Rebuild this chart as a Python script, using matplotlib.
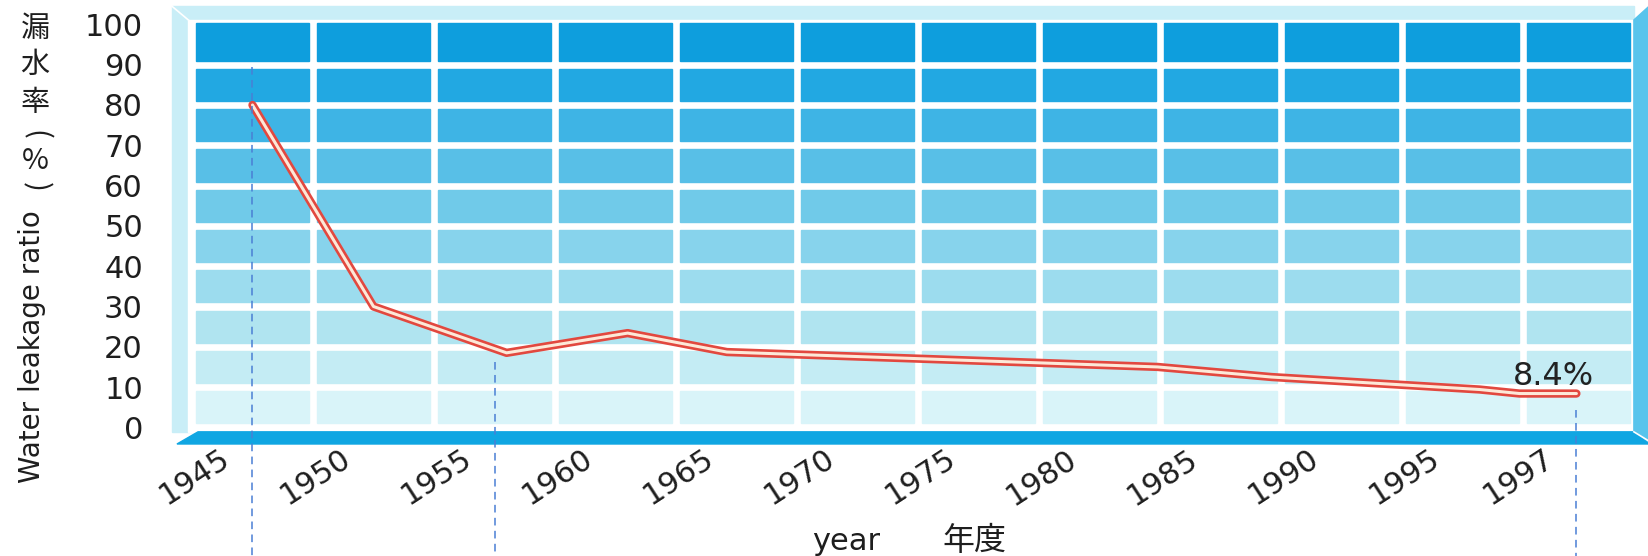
import matplotlib.pyplot as plt
import numpy as np
from matplotlib.patches import Rectangle, Polygon
from matplotlib.transforms import ScaledTranslation

# 漏水率の推移 (1945-1997)
tick_years = [1945, 1950, 1955, 1960, 1965, 1970, 1975, 1980, 1985, 1990, 1995, 1997]
years = [1945, 1950, 1955.5, 1960.5, 1964.6, 1982.4, 1987.1, 1995.3, 1996, 1997]
leak = [80, 30, 18.5, 23.4, 18.7, 15.0, 12.5, 9.4, 8.4, 8.4]
y_ticks = list(range(0, 101, 10))
last_label = '8.4%'

# 列の境界 (最後の列だけ少し細い)
col_edges = np.append(np.arange(12), 11.88)
col_centers = (col_edges[:-1] + col_edges[1:]) / 2
x_data = np.interp(years, tick_years, col_centers)

row_colors = ['#d9f4f9', '#c4ecf4', '#b0e4f0', '#9cdcee', '#87d3ec',
              '#70cae9', '#58bfe7', '#3eb4e5', '#22a8e2', '#0e9edd']

W, H = 1649, 556
fig = plt.figure(figsize=(W / 100, H / 100), dpi=100)
ax = fig.add_axes([168 / W, 112 / H, 1481 / W, 440 / H])
ax.set_xlim(-0.198, 12.04)
ax.set_ylim(-4.12, 105.06)
ax.set_facecolor('none')
for s in ax.spines.values():
    s.set_visible(False)

# 外枠 (うすい水色) と白い地
ax.add_patch(Rectangle((-0.165, -1.1), 12.08, 105.6, color='#c9eef7', zorder=0))
ax.add_patch(Rectangle((-0.03, -1.1), 11.94, 102.2, color='white', zorder=1))
ax.plot([-0.165, -0.03], [104.5, 101.1], color='white', lw=1.2, zorder=1)

# 右の側面
ax.add_patch(Polygon([(11.915, 101.1), (12.04, 104.5), (12.04, -4.12), (11.915, -1.1)],
                     closed=True, color='#58c4ec', zorder=1, clip_on=False))
# 床
ax.add_patch(Polygon([(0.05, -1.1), (11.915, -1.1), (12.04, -4.12), (-0.124, -4.12)],
                     closed=True, color='#10a6e2', zorder=2, clip_on=False))
ax.plot([11.915, 12.04], [-1.1, -3.4], color='white', lw=1.2, zorder=3, clip_on=False)

# セル
for j in range(10):
    y0 = 10 * j + 1
    h = 9.3 if j == 9 else 8
    for i in range(12):
        x0 = col_edges[i] + 0.035
        w = (col_edges[i + 1] - 0.035 if i < 11 else col_edges[i + 1]) - x0
        ax.add_patch(Rectangle((x0, y0), w, h, color=row_colors[j], zorder=2))

# 折れ線 (赤いふち + 白っぽい芯)
ax.plot(x_data, leak, color='#e2483f', lw=6, solid_capstyle='round', solid_joinstyle='round', zorder=5)
ax.plot(x_data, leak, color='#fde8d8', lw=2.2, solid_capstyle='round', solid_joinstyle='round', zorder=6)

ax.annotate(last_label, xy=(x_data[-1], leak[-1]), xytext=(-64, 17), textcoords='offset pixels',
            ha='left', va='center', fontsize=23, color='#222222', zorder=7)

# 青い破線
guide_years = [1945, 1955, 1997]
guide_top = [89.4, 16.2, 4.3]
guide_x = np.interp(guide_years, tick_years, col_centers)
for gx, gt in zip(guide_x, guide_top):
    ax.plot([gx, gx], [gt, -32], color='#4a7fd4', lw=1.1, dashes=(5, 3.5), zorder=8, clip_on=False)

ax.set_yticks(y_ticks)
ax.set_yticklabels([str(v) for v in y_ticks])
ax.tick_params(axis='y', length=0, pad=18, labelsize=22, labelcolor='#1e1e1e')
ax.set_xticks(col_centers)
ax.set_xticklabels([str(y) for y in tick_years], rotation=33, ha='right', va='top',
                   rotation_mode='anchor')
ax.tick_params(axis='x', length=0, pad=0, labelsize=22, labelcolor='#1e1e1e')
shift = ScaledTranslation(-33 / 100, 0, fig.dpi_scale_trans)
for lab in ax.get_xticklabels():
    lab.set_transform(lab.get_transform() + shift)

# 縦書きの軸ラベル
jp = ['Noto Sans CJK JP', 'DejaVu Sans']
for ch, yy, rot in [('漏', 29, 0), ('水', 65, 0), ('率', 103, 0), ('(', 135, -90), ('%', 161, 0), (')', 187, -90)]:
    fig.text(35 / W, 1 - yy / H, ch, ha='center', va='center', rotation=rot,
             fontsize=21, family=jp, color='#1e1e1e')
fig.text(32 / W, 1 - 347 / H, 'Water leakage ratio', rotation=90, ha='center', va='center',
         fontsize=20, color='#1e1e1e')
fig.text(846 / W, 1 - 541 / H, 'year', ha='center', va='center', fontsize=22, color='#1e1e1e')
fig.text(974 / W, 1 - 541 / H, '年度', ha='center', va='center', fontsize=23, family=jp, color='#1e1e1e')

fig.savefig('out.png', dpi=100)
